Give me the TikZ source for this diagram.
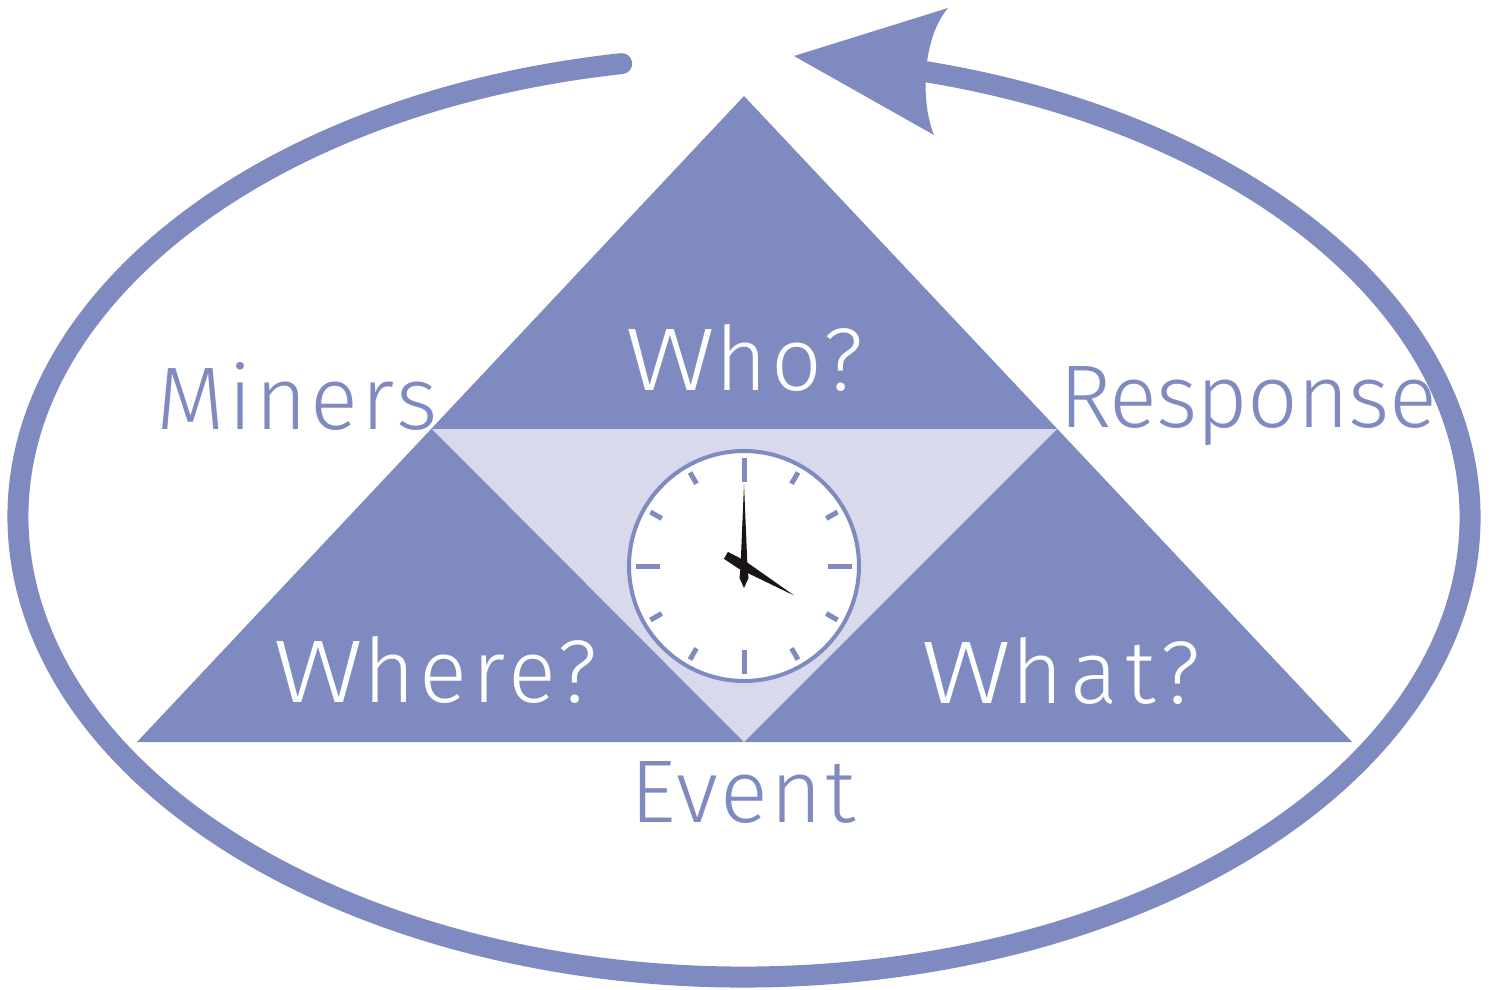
\documentclass[tikz,border=0pt]{standalone}
\usepackage{fontspec}
\usepackage{graphicx}
\newfontfamily\lblfont{Fira Sans Light}
\newcommand{\wideW}{\scalebox{1.25}[1]{W}}
\definecolor{dkblue}{HTML}{7F8BC0}
\definecolor{ltblue}{HTML}{D8DAEC}
\definecolor{handcol}{HTML}{1A1414}
\begin{document}
\begin{tikzpicture}[x=1pt,y=-1pt,
  lbl/.style={font=\lblfont\fontsize{89}{89}\selectfont, anchor=base, inner sep=0pt},
  onwhite/.style={lbl, text=dkblue},
  ondark/.style={lbl, text=white},
  ring/.style={draw=dkblue, line width=21pt},
  clocktick/.style={draw=dkblue, line width=5pt},
  hand/.style={fill=handcol}]
\useasboundingbox (0,0) rectangle (1490,989);
% triangles
\coordinate (apex) at (744,96);
\coordinate (ml) at (432,429);
\coordinate (mr) at (1057,429);
\coordinate (bl) at (137,742);
\coordinate (bm) at (744,742);
\coordinate (br) at (1352,742);
\fill[dkblue] (apex) -- (bl) -- (br) -- cycle;
\fill[ltblue] (ml) -- (mr) -- (bm) -- cycle;
% cycle arrow
\coordinate (cycstart) at (621.7,63.6);
\draw[ring, line cap=round] (cycstart) arc[start angle=260.3, end angle=-77.6, x radius=726, y radius=460];
\coordinate (tip) at (794,56);
\fill[dkblue] (tip) -- (948,8) .. controls (921,40) and (921,104) .. (934,135) -- cycle;
% clock
\node[circle, draw=dkblue, line width=4pt, fill=white, minimum size=230pt, inner sep=0pt] (clock) at (744,566) {};
\foreach \a in {0,90,180,270}
  \draw[clocktick] ([shift={(\a:84pt)}]clock.center) -- ([shift={(\a:108pt)}]clock.center);
\foreach \a in {30,60,120,150,210,240,300,330}
  \draw[clocktick] ([shift={(\a:95pt)}]clock.center) -- ([shift={(\a:108pt)}]clock.center);
\fill[hand, shift={(clock.center)}] (0,-82) -- (3.5,2) -- (4.5,12) -- (0,22) -- (-4.5,12) -- (-3.5,2) -- cycle;
\fill[hand, shift={(clock.center)}] (-20.1,-7.2) -- (-5.1,2.8) -- (50,29.4) -- (0,-5.8) -- (-16.1,-14.1) -- cycle;
% labels
\node[onwhite] (miners) at (297,429) {\addfontfeatures{LetterSpace=3.5}Miners};
\node[ondark] (who) at (744.5,390) {\addfontfeatures{LetterSpace=5}\wideW ho?};
\node[onwhite] (response) at (1248,427) {\addfontfeatures{LetterSpace=-1}Response};
\node[ondark] (where) at (435,702) {\addfontfeatures{LetterSpace=5.5}\wideW here?};
\node[ondark] (what) at (1061,703) {\addfontfeatures{LetterSpace=8}\wideW hat?};
\node[onwhite] (event) at (743,822) {\addfontfeatures{LetterSpace=2.8}Event};
\end{tikzpicture}
\end{document}
